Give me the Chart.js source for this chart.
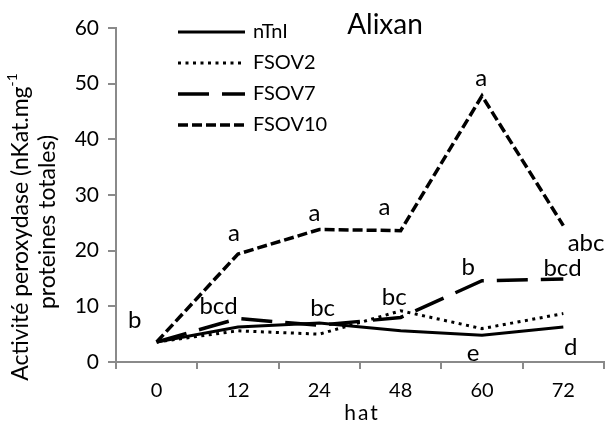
<!DOCTYPE html>
<html>
<head>
<meta charset="utf-8">
<script src="https://cdn.jsdelivr.net/npm/chart.js@4"></script>
<style>
  html, body { margin: 0; padding: 0; background: #fff; }
</style>
</head>
<body>
<canvas id="chart" width="609" height="424"></canvas>
<script>
// Data
const hours = ["0", "12", "24", "48", "60", "72"];
const nTnI = [3.6, 6.3, 7.0, 5.6, 4.8, 6.3];
const fsov2 = [3.6, 5.6, 5.0, 9.2, 6.0, 8.7];
const fsov7 = [3.6, 7.8, 6.6, 8.0, 14.6, 14.9];
const fsov10 = [3.6, 19.4, 23.8, 23.6, 47.8, 24.5];
const yTicks = [0, 10, 20, 30, 40, 50, 60];

// Significance letters (category index, value)
const letterText = ["b", "bcd", "a", "a", "bc", "a", "bc", "a", "b", "e", "abc", "bcd", "d"];
const letterCat = [-0.27, 0.76, 0.95, 1.94, 2.04, 2.8, 2.92, 3.99, 3.83, 3.89, 5.28, 4.99, 5.09];
const letterVal = [7.5, 10.0, 23.1, 26.8, 9.7, 27.8, 11.6, 51.0, 17.0, 1.6, 21.4, 16.8, 2.7];

const FONT = "Lato";
const AXIS = "#8a8a8a";

// Titles, legend and letters drawn on top
const annotations = {
  id: "annotations",
  afterDraw(chart) {
    const ctx = chart.ctx;
    const xs = chart.scales.x;
    const ys = chart.scales.y;
    ctx.save();
    ctx.fillStyle = "#000";

    // chart title
    ctx.font = "28px " + FONT;
    ctx.textAlign = "center";
    ctx.textBaseline = "middle";
    ctx.fillText("Alixan", 385, 25);

    // x axis title
    ctx.font = "21px " + FONT;
    ctx.letterSpacing = "2px";
    ctx.textBaseline = "alphabetic";
    ctx.fillText("hat", 362, 420);
    ctx.letterSpacing = "0px";
    ctx.textBaseline = "middle";

    // y axis title (two lines, superscript -1)
    ctx.save();
    ctx.translate(21, 227);
    ctx.rotate(-Math.PI / 2);
    const main = "Activité peroxydase (nKat.mg";
    ctx.font = "23px " + FONT;
    const w1 = ctx.measureText(main).width;
    ctx.font = "14px " + FONT;
    const w2 = ctx.measureText("-1").width;
    let x0 = -(w1 + w2) / 2;
    ctx.textAlign = "left";
    ctx.font = "23px " + FONT;
    ctx.fillText(main, x0, 0);
    ctx.font = "14px " + FONT;
    ctx.fillText("-1", x0 + w1, -9);
    ctx.restore();

    ctx.save();
    ctx.translate(48, 222);
    ctx.rotate(-Math.PI / 2);
    ctx.font = "23px " + FONT;
    ctx.textAlign = "center";
    ctx.fillText("proteines totales)", 0, 0);
    ctx.restore();

    // legend
    chart.data.datasets.forEach(function (ds, i) {
      const y = 32 + i * 31;
      ctx.save();
      ctx.strokeStyle = ds.borderColor;
      ctx.lineWidth = ds.borderWidth;
      ctx.setLineDash(ds.borderDash || []);
      ctx.beginPath();
      ctx.moveTo(178, y);
      ctx.lineTo(245, y);
      ctx.stroke();
      ctx.restore();
      ctx.font = "20px " + FONT;
      ctx.textAlign = "left";
      ctx.textBaseline = "middle";
      ctx.fillText(ds.label, 253, y);
    });

    // letters
    ctx.font = "24px " + FONT;
    ctx.textAlign = "center";
    ctx.textBaseline = "middle";
    const step = xs.getPixelForValue(1) - xs.getPixelForValue(0);
    letterText.forEach(function (t, i) {
      const px = xs.getPixelForValue(0) + letterCat[i] * step;
      const py = ys.getPixelForValue(letterVal[i]);
      ctx.fillText(t, px, py);
    });
    ctx.restore();
  },
};

new Chart(document.getElementById("chart"), {
  type: "line",
  data: {
    labels: hours,
    datasets: [
      { label: "nTnI", data: nTnI, borderColor: "#000", borderWidth: 3 },
      { label: "FSOV2", data: fsov2, borderColor: "#000", borderWidth: 3, borderDash: [3, 4.5] },
      { label: "FSOV7", data: fsov7, borderColor: "#000", borderWidth: 3.5, borderDash: [31, 13] },
      { label: "FSOV10", data: fsov10, borderColor: "#000", borderWidth: 3.5, borderDash: [10, 4] },
    ],
  },
  plugins: [annotations],
  options: {
    responsive: false,
    animation: false,
    devicePixelRatio: 1,
    layout: { padding: { top: 28, right: 5, left: 0, bottom: 0 } },
    elements: {
      point: { radius: 0, hoverRadius: 0 },
      line: { tension: 0, fill: false },
    },
    plugins: {
      legend: { display: false },
      title: { display: false },
      tooltip: { enabled: false },
    },
    scales: {
      x: {
        offset: true,
        grid: {
          display: true,
          drawOnChartArea: false,
          drawTicks: true,
          tickLength: 7,
          color: AXIS,
          lineWidth: 2,
          offset: true,
        },
        border: { color: AXIS, width: 2 },
        ticks: { color: "#000", font: { family: FONT, size: 20 }, padding: 10, maxRotation: 0 },
        afterFit: function (scale) {
          scale.height = 62;
        },
      },
      y: {
        min: 0,
        max: 60,
        grid: {
          display: true,
          drawOnChartArea: false,
          drawTicks: true,
          tickLength: 8,
          color: AXIS,
          lineWidth: 2,
        },
        border: { color: AXIS, width: 2 },
        afterBuildTicks: function (scale) {
          scale.ticks = yTicks.map(function (v) { return { value: v }; });
        },
        ticks: { color: "#000", font: { family: FONT, size: 21 }, padding: 9 },
        afterFit: function (scale) {
          scale.width = 116;
        },
      },
    },
  },
});
</script>
</body>
</html>
